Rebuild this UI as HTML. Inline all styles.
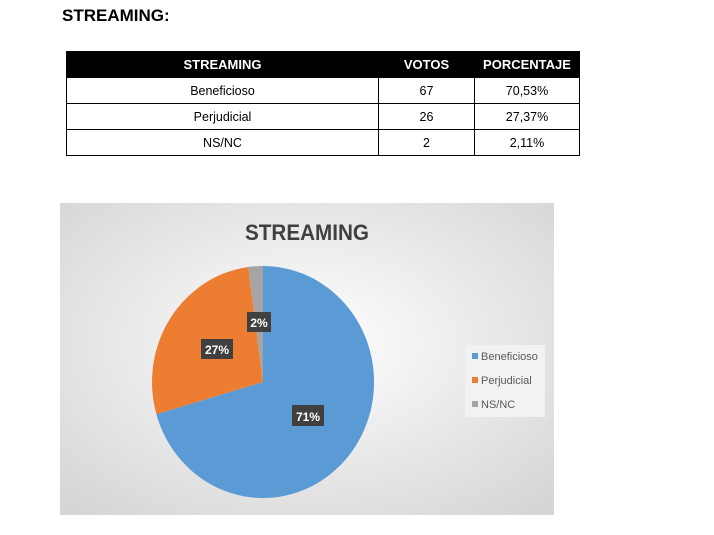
<!DOCTYPE html>
<html><head><style>
body{margin:0;width:714px;height:535px;background:#fff;font-family:"Liberation Sans",sans-serif;position:relative;overflow:hidden}
.t{position:absolute;left:62px;top:6px;font-weight:bold;font-size:17px;color:#000}
table{position:absolute;left:66px;top:51px;width:514px;border-collapse:collapse;font-size:12.5px}
td,th{border:1px solid #000;text-align:center;height:25px;padding:0}
th{background:#000;color:#fff;font-weight:bold;font-size:13px}
</style></head><body>
<div class="t">STREAMING:</div>
<table>
<tr><th style="width:311px">STREAMING</th><th style="width:95px">VOTOS</th><th>PORCENTAJE</th></tr>
<tr><td>Beneficioso</td><td>67</td><td>70,53%</td></tr>
<tr><td>Perjudicial</td><td>26</td><td>27,37%</td></tr>
<tr><td>NS/NC</td><td>2</td><td>2,11%</td></tr>
</table>
<svg style="position:absolute;left:0;top:0" width="714" height="535">
<defs><radialGradient id="g" cx="0.5" cy="0.45" r="0.7"><stop offset="0" stop-color="#ffffff"/><stop offset="1" stop-color="#d6d6d6"/></radialGradient></defs>
<rect x="60" y="203" width="494" height="312" fill="url(#g)"/>
<text x="245" y="240" textLength="124" lengthAdjust="spacingAndGlyphs" font-weight="bold" font-size="22" fill="#404040" font-family="Liberation Sans">STREAMING</text>
<path d="M263,382 L263,266 A111,116 0 1 1 156.4,414.2 Z" fill="#5b9bd5"/>
<path d="M263,382 L156.4,414.2 A111,116 0 0 1 248.3,267 Z" fill="#ed7d31"/>
<path d="M263,382 L248.3,267 A111,116 0 0 1 263,266 Z" fill="#a5a5a5"/>
<g font-family="Liberation Sans" font-weight="bold" font-size="12" fill="#fff" text-anchor="middle">
<rect x="247" y="312" width="24" height="20" fill="#404040"/><text x="259" y="327">2%</text>
<rect x="201" y="339" width="32" height="20" fill="#404040"/><text x="217" y="354">27%</text>
<rect x="292" y="405" width="32" height="21" fill="#404040"/><text x="308" y="421">71%</text>
</g>
<rect x="465" y="345" width="80" height="72" fill="#f2f2f2"/>
<g font-family="Liberation Sans" font-size="11" fill="#595959">
<rect x="472" y="353" width="6" height="6" fill="#5b9bd5"/><text x="481" y="360">Beneficioso</text>
<rect x="472" y="377" width="6" height="6" fill="#ed7d31"/><text x="481" y="384">Perjudicial</text>
<rect x="472" y="401" width="6" height="6" fill="#a5a5a5"/><text x="481" y="408">NS/NC</text>
</g>
</svg>
</body></html>
